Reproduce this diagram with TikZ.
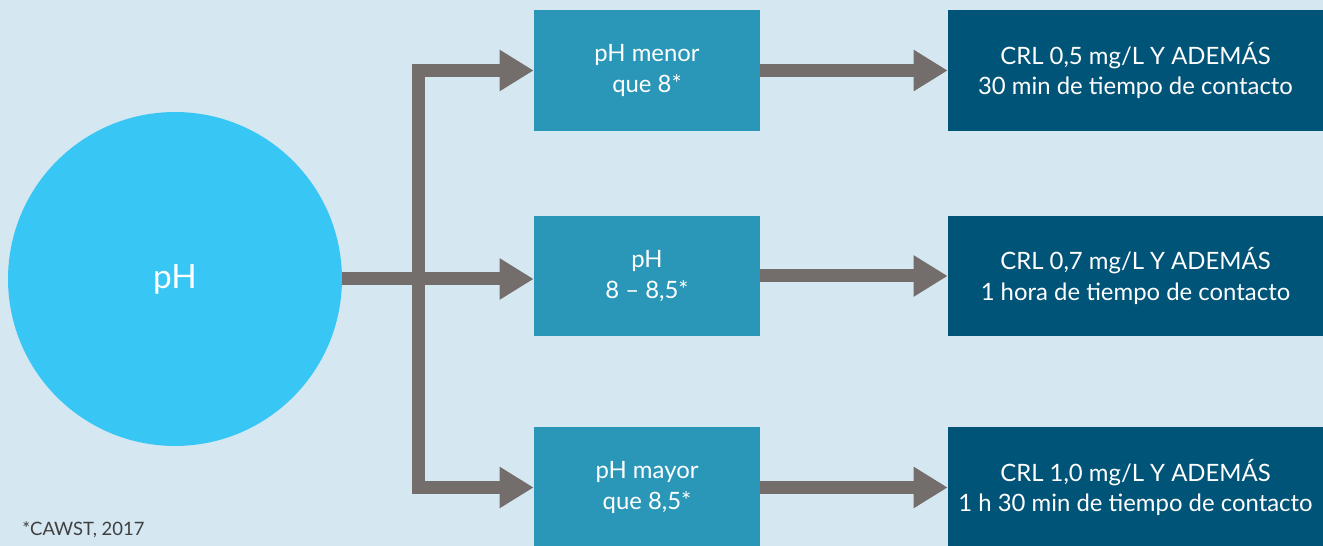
\documentclass[tikz,border=0pt]{standalone}
\usepackage{fontspec}
\setmainfont{Lato}
\usetikzlibrary{arrows.meta}
\definecolor{fond}{HTML}{D5E7F1}
\definecolor{bulle}{HTML}{38C6F4}
\definecolor{moyen}{HTML}{2A96B8}
\definecolor{fonce}{HTML}{005478}
\definecolor{gris}{HTML}{736E6B}
\begin{document}
\begin{tikzpicture}[x=0.02cm, y=-0.02cm]
\tikzset{bulle/.style={circle, fill=bulle, text=white, minimum size=6.68cm, inner sep=0pt, font=\fontsize{19}{22}\selectfont},
boite/.style={fill=moyen, text=white, minimum width=4.52cm, minimum height=2.42cm, align=center, inner sep=0pt, font=\fontsize{13.6}{17.5}\selectfont},
resultat/.style={boite, fill=fonce, minimum width=7.5cm},
fleche/.style={draw=gris, line width=0.26cm, line join=miter, -{Triangle[length=0.68cm, width=0.78cm]}}}
\useasboundingbox (0,0) rectangle (1323,546);
\clip (0,0) rectangle (1323,546);
\fill[fond] (0,0) rectangle (1323,546);
\node[bulle] (P) at (175,279) {pH};
\node[boite] (M1) at (647,70.5) {pH menor\\que 8*};
\node[boite] (M2) at (647,276) {pH\\8 – 8,5*};
\node[boite] (M3) at (647,487.5) {pH mayor\\que 8,5*};
\node[resultat] (R1) at (1135.5,70.5) {CRL 0,5 mg/L Y ADEMÁS\\30 min de tiempo de contacto};
\node[resultat] (R2) at (1135.5,276) {CRL 0,7 mg/L Y ADEMÁS\\1 hora de tiempo de contacto};
\node[resultat] (R3) at (1135.5,487.5) {CRL 1,0 mg/L Y ADEMÁS\\1 h 30 min de tiempo de contacto};
\coordinate (S) at (418,279);
\draw[fleche] (P.east) -- (P.east -| M2.west);
\draw[fleche] (S) |- (M1.west);
\draw[fleche] (S) |- (M3.west);
\draw[fleche] (M1.east) -- (R1.west);
\draw[fleche] (M2.east) -- (R2.west);
\draw[fleche] (M3.east) -- (R3.west);
\node[anchor=base west, text=black!75, font=\fontsize{10.5}{12}\selectfont, inner sep=0pt] (N) at (22,536) {*CAWST, 2017};
\end{tikzpicture}
\end{document}
